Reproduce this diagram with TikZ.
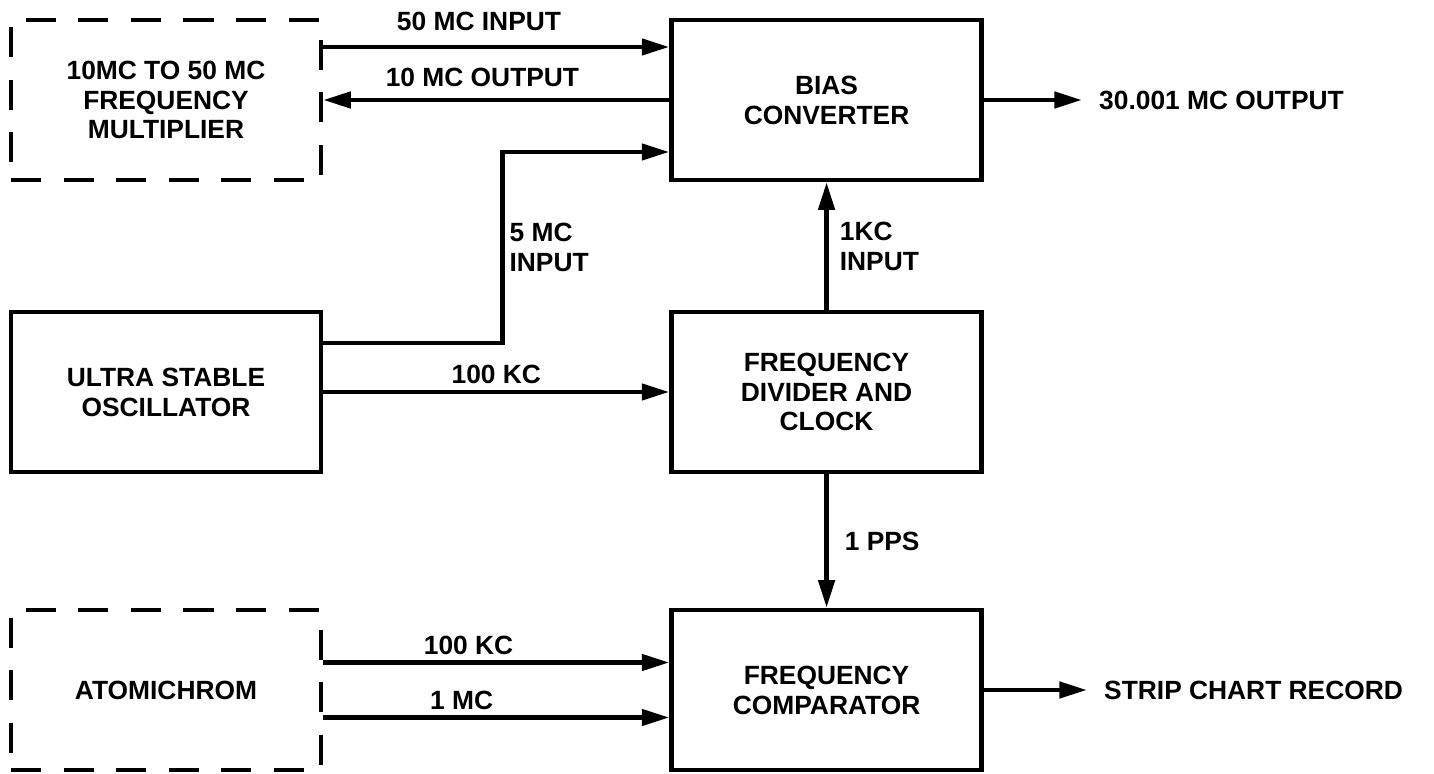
\documentclass[tikz,border=0pt]{standalone}
\usepackage{fontspec}
\setmainfont{Liberation Sans}
\usetikzlibrary{positioning,arrows.meta}
\tikzset{
  block/.style={rectangle,draw=black,line width=2.6pt,align=center,minimum width=6.2cm,minimum height=3.2cm,font=\fontsize{15}{17}\selectfont\bfseries},
  dashblock/.style={block,dash pattern=on 0.6cm off 0.45cm},
  lbl/.style={font=\fontsize{15}{17}\selectfont\bfseries,align=left,inner sep=2pt},
  outtext/.style={lbl,inner xsep=0.34cm,inner ysep=0pt},
  edge/.style={-{Triangle[length=5.5mm,width=3.2mm]},line width=2.6pt}
}

\begin{document}
\begin{tikzpicture}
  \useasboundingbox (0,0) rectangle (28.68,-15.48);
  % left column
  \node[dashblock] (mult) at (3.32,-2.0) {10MC TO 50 MC\\FREQUENCY\\MULTIPLIER};
  \node[block] (osc) at (3.32,-7.84) {ULTRA STABLE\\OSCILLATOR};
  \node[dashblock] (atom) at (3.32,-13.8) {ATOMICHROM};
  % right column
  \node[block,right=6.92cm of mult] (bias) {BIAS\\CONVERTER};
  \node[block,right=6.92cm of osc] (div) {FREQUENCY\\DIVIDER AND\\CLOCK};
  \node[block,right=6.92cm of atom] (comp) {FREQUENCY\\COMPARATOR};
  % outputs
  \node[outtext,right=1.96cm of bias] (out) {30.001 MC OUTPUT};
  \node[outtext,right=2.06cm of comp] (strip) {STRIP CHART RECORD};

  \draw[edge] ([yshift=1.06cm]mult.east) -- node[lbl,above=0.2cm,pos=0.45]{50 MC INPUT} ([yshift=1.06cm]bias.west);
  \draw[edge] (bias.west) -- node[lbl,above=0.14cm,pos=0.54]{10 MC OUTPUT} (mult.east);
  \draw[edge] ([yshift=0.98cm]osc.east) -- ++(3.58,0) |- node[lbl,pos=0.25,right=0.03cm]{5 MC\\INPUT} ([yshift=-1.04cm]bias.west);
  \draw[edge] (osc) -- node[lbl,above=0.04cm]{100 KC} (div);
  \draw[edge] (div) -- node[lbl,right=0.15cm]{1KC\\INPUT} (bias);
  \draw[edge] (div) -- node[lbl,right=0.25cm]{1 PPS} (comp);
  \draw[edge] ([yshift=0.55cm]atom.east) -- node[lbl,above=0.04cm,pos=0.42]{100 KC} ([yshift=0.55cm]comp.west);
  \draw[edge] ([yshift=-0.55cm]atom.east) -- node[lbl,above=0.04cm,pos=0.40]{1 MC} ([yshift=-0.55cm]comp.west);
  \draw[edge] (bias) -- (out);
  \draw[edge] (comp) -- (strip);
\end{tikzpicture}
\end{document}
